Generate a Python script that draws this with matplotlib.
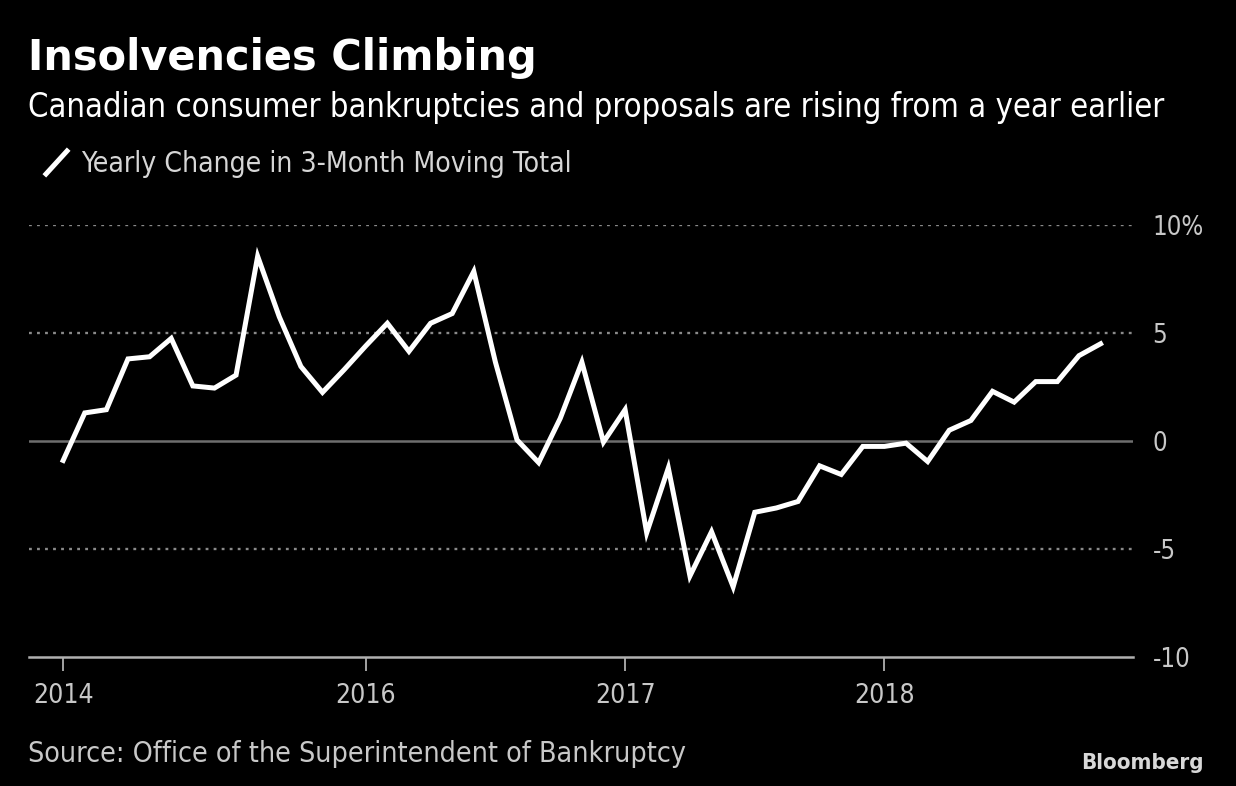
import matplotlib
matplotlib.use('Agg')
import matplotlib.pyplot as plt
from matplotlib import font_manager

# yearly change in 3-month moving total, % (one point per month)
values = [-0.9, 1.3, 1.45, 3.8, 3.9, 4.75, 2.55, 2.45, 3.05, 8.55,
          5.75, 3.45, 2.25, 3.3, 4.4, 5.45, 4.15, 5.45, 5.9, 7.85,
          3.65, 0.05, -1.0, 1.05, 3.65, -0.05, 1.45, -4.25, -1.25, -6.25,
          -4.2, -6.75, -3.3, -3.1, -2.8, -1.15, -1.55, -0.25, -0.25, -0.1,
          -0.95, 0.5, 0.95, 2.3, 1.8, 2.75, 2.75, 3.95, 4.5]
tick_idx = [0, 14, 26, 38]
tick_labels = ['2014', '2016', '2017', '2018']
y_ticks = [10, 5, 0, -5, -10]
y_labels = ['10%', '5', '0', '-5', '-10']

title = 'Insolvencies Climbing'
subtitle = 'Canadian consumer bankruptcies and proposals are rising from a year earlier'
legend_text = 'Yearly Change in 3-Month Moving Total'
source = 'Source: Office of the Superintendent of Bankruptcy'

cond = [f for f in font_manager.fontManager.ttflist if 'Condensed' in f.fname and 'DejaVuSans' in f.fname]
fam = 'DejaVu Sans'
stretch = 'condensed' if cond else 'normal'

W, H = 1236, 786
fig = plt.figure(figsize=(W / 100, H / 100), dpi=100, facecolor='black')

ax = fig.add_axes([29 / W, 129 / H, (1133 - 29) / W, (657 - 225) / H])
ax.set_facecolor('black')
x = list(range(len(values)))
ax.plot(x, values, color='white', lw=3.6, solid_joinstyle='miter', zorder=3)

for yv in [10, 5, -5]:
    ax.axhline(yv, color='#8a8a8a', lw=1.7, ls=(0, (1.2, 2.2)), zorder=1)
ax.axhline(0, color='#6e6e6e', lw=1.8, zorder=1)
ax.axhline(-10, color='#b0b0b0', lw=1.8, zorder=2, clip_on=False)

ax.set_xlim(-1.58, 49.5)
ax.set_ylim(-10, 10)
for s in ax.spines.values():
    s.set_visible(False)

ax.set_xticks(tick_idx)
ax.set_xticklabels(tick_labels)
ax.tick_params(axis='x', colors='#b0b0b0', length=10, width=1.3, pad=9,
               labelsize=19, labelcolor='#c8c8c8')
for lab in ax.get_xticklabels():
    lab.set_fontstretch(stretch)

ax.yaxis.tick_right()
ax.set_yticks(y_ticks)
ax.set_yticklabels(y_labels)
ax.tick_params(axis='y', length=0, pad=14, labelsize=18.5, labelcolor='#c8c8c8')
for lab in ax.get_yticklabels():
    lab.set_fontstretch(stretch)
    lab.set_horizontalalignment('left')

fig.text(28 / W, 1 - 70 / H, title, color='white', fontsize=29.9, fontweight='bold',
         family=fam)
fig.text(28 / W, 1 - 117 / H, subtitle, color='white', fontsize=23.5,
         family=fam, fontstretch=stretch)
fig.lines.append(plt.Line2D([46 / W, 67 / W], [1 - 174 / H, 1 - 151 / H], color='white',
                            lw=3.6, transform=fig.transFigure, figure=fig))
fig.text(81 / W, 1 - 172 / H, legend_text, color='#d6d6d6', fontsize=20.3,
         family=fam, fontstretch=stretch)
fig.text(28 / W, 1 - 762 / H, source, color='#c8c8c8', fontsize=20.5,
         family=fam, fontstretch=stretch)
fig.text(1204 / W, 1 - 769 / H, 'Bloomberg', color='#d8d8d8', fontsize=16,
         fontweight='bold', family=fam, fontstretch=stretch, ha='right')

fig.savefig('out.png', dpi=100, facecolor='black')
